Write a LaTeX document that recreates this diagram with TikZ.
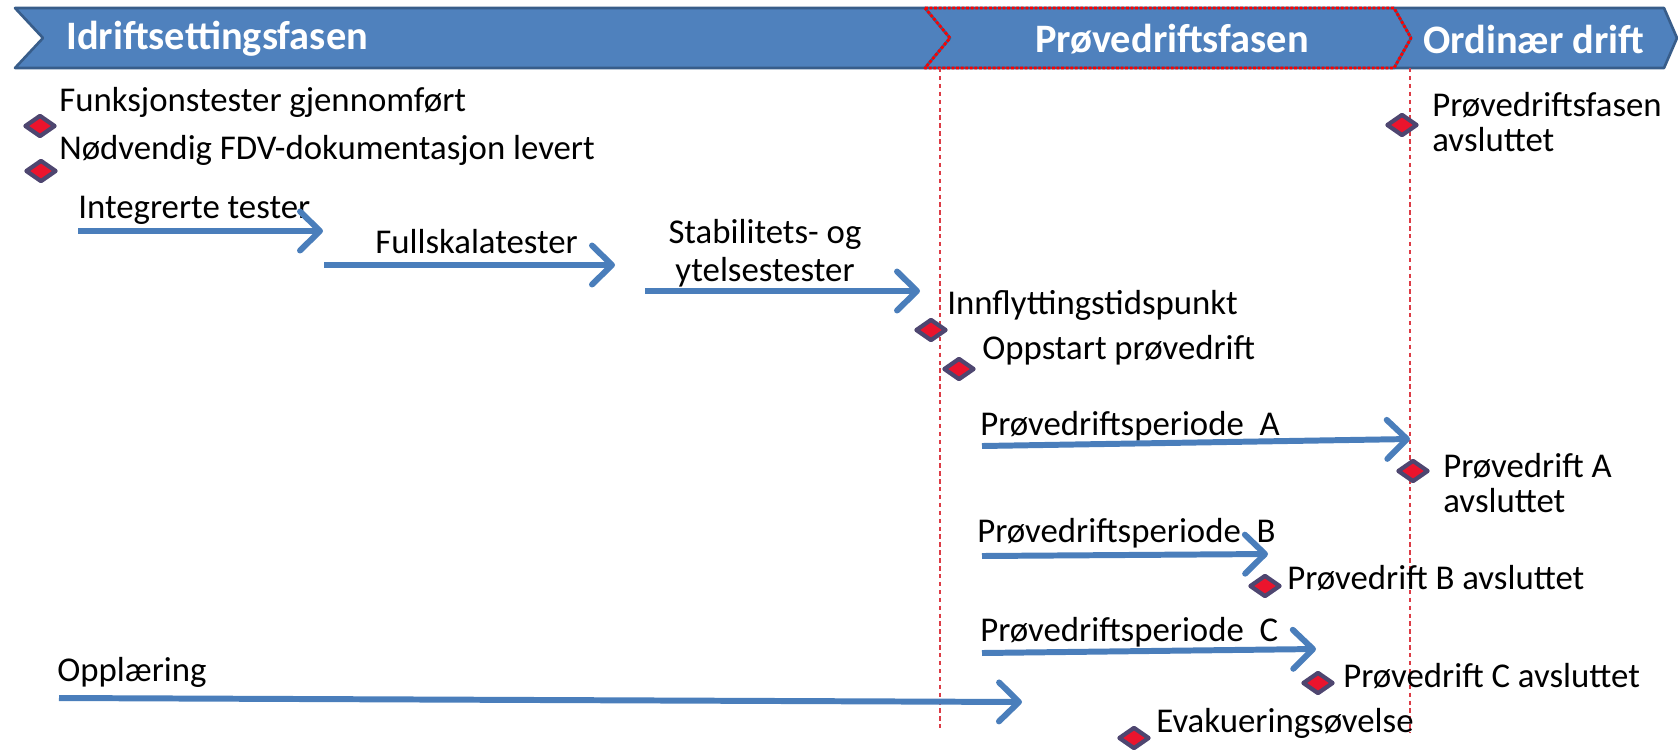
\documentclass[tikz,border=0pt]{standalone}
\usepackage{fontspec}
\setmainfont{Carlito}
\usetikzlibrary{arrows.meta,shapes.geometric}
\definecolor{bandblue}{RGB}{79,129,189}
\definecolor{banddark}{RGB}{56,93,138}
\definecolor{arrowblue}{RGB}{74,126,187}
\definecolor{markred}{RGB}{235,20,45}
\definecolor{markedge}{RGB}{78,70,112}
\definecolor{guidered}{RGB}{220,60,70}

\begin{document}
\begin{tikzpicture}[x=0.02cm, y=-0.02cm, line join=round]
  \useasboundingbox (0,0) rectangle (1678,752);

  % Stiler for faser, milepaeler og aktiviteter
  \tikzset{
    phase/.style={fill=bandblue, draw=banddark, line width=1.5pt},
    phasetext/.style={text=white, inner sep=0pt, font=\fontsize{23}{26}\selectfont\bfseries},
    milestone/.style={diamond, fill=markred, draw=markedge, line width=2.4pt,
      minimum width=0.62cm, minimum height=0.44cm, inner sep=0pt},
    mtext/.style={anchor=west, inner sep=0pt, align=left, font=\fontsize{19.8}{20}\selectfont},
    activity/.style={draw=arrowblue, line width=3.4pt, -{Straight Barb[round, length=0.4cm, width=0.78cm]}},
    guideline/.style={draw=guidered, dash pattern=on 2.5pt off 2pt, line width=0.6pt}
  }

  % Fasebaand
  \draw[phase] (15,8) -- (925,8) -- (950,38) -- (925,68) -- (15,68) -- (43,38) -- cycle;
  \draw[phase] (1394,8) -- (1664,8) -- (1677,38) -- (1664,68) -- (1394,68) -- (1411,38) -- cycle;
  \draw[phase] (925,8) -- (1394,8) -- (1411,38) -- (1394,68) -- (925,68) -- (950,38) -- cycle;
  \draw[draw=red, densely dotted, line width=1.6pt] (925,8) -- (1394,8) -- (1411,38) -- (1394,68) -- (925,68) -- (950,38) -- cycle;

  \node[phasetext, anchor=west] (idrift) at (66,39) {Idriftsettingsfasen};
  \node[phasetext] (provefase) at (1172,39) {Prøvedriftsfasen};
  \node[phasetext, anchor=west] (ordinar) at (1423,39) {Ordinær drift};

  % Skillelinjer mellom fasene
  \coordinate (GuideTop1) at (940,68);
  \coordinate (GuideBot1) at (940,728);
  \coordinate (GuideTop2) at (1410,68);
  \coordinate (GuideBot2) at (1410,733);
  \draw[guideline] (GuideTop1) -- (GuideBot1);
  \draw[guideline] (GuideTop2) -- (GuideBot2);

  % Milepaeler
  \node[milestone] (mFunk) at (40,126) {};
  \node[milestone] (mFdv) at (41,171) {};
  \node[milestone] (mInn) at (931,330) {};
  \node[milestone] (mOpp) at (959,369) {};
  \node[milestone] (mA) at (1413,471) {};
  \node[milestone] (mB) at (1265,586) {};
  \node[milestone] (mC) at (1318,683) {};
  \node[milestone] (mEvak) at (1134,738) {};
  \node[milestone] (mSlutt) at (1402,125) {};

  % Tekster
  \node[mtext] (tFunk) at (59,102) {Funksjonstester gjennomført};
  \node[mtext] (tFdv) at (59,150) {Nødvendig FDV-dokumentasjon levert};
  \node[mtext] (tInt) at (78,210) {Integrerte tester};
  \node[mtext] (tFull) at (375,242) {Fullskalatester};
  \node[inner sep=0pt, align=center, font=\fontsize{19.8}{21.5}\selectfont] (tStab) at (765,253) {Stabilitets- og\\ytelsestester};
  \node[mtext] (tInn) at (947,305) {Innflyttingstidspunkt};
  \node[mtext] (tOpp) at (982,350) {Oppstart prøvedrift};
  \node[mtext] (tPerA) at (980,426) {Prøvedriftsperiode\ \ A};
  \node[mtext] (tA) at (1443,483) {Prøvedrift A\\avsluttet};
  \node[mtext] (tPerB) at (977,533) {Prøvedriftsperiode\ \ B};
  \node[mtext] (tB) at (1287,578) {Prøvedrift B avsluttet};
  \node[mtext] (tPerC) at (980,632) {Prøvedriftsperiode\ \ C};
  \node[mtext] (tC) at (1343,676) {Prøvedrift C avsluttet};
  \node[mtext] (tOppl) at (57,672) {Opplæring};
  \node[mtext] (tEvak) at (1156,723) {Evakueringsøvelse};
  \node[mtext] (tSlutt) at (1432,122) {Prøvedriftsfasen\\avsluttet};

  % Aktiviteter (piler)
  \coordinate (IntStart) at (78,231);
  \coordinate (IntEnd) at (323,231);
  \coordinate (FullStart) at (324,265);
  \coordinate (FullEnd) at (615,265);
  \coordinate (StabStart) at (645,291);
  \coordinate (StabEnd) at (920,291);
  \coordinate (AStart) at (982,446);
  \coordinate (AEnd) at (1410,439);
  \coordinate (BStart) at (982,556);
  \coordinate (BEnd) at (1268,554);
  \coordinate (CStart) at (982,653);
  \coordinate (CEnd) at (1316,649);
  \coordinate (OpplStart) at (59,698);
  \coordinate (OpplEnd) at (1022,702);

  \draw[activity] (IntStart) -- (IntEnd);
  \draw[activity] (FullStart) -- (FullEnd);
  \draw[activity] (StabStart) -- (StabEnd);
  \draw[activity] (AStart) -- (AEnd);
  \draw[activity] (BStart) -- (BEnd);
  \draw[activity] (CStart) -- (CEnd);
  \draw[activity] (OpplStart) -- (OpplEnd);

\end{tikzpicture}
\end{document}
